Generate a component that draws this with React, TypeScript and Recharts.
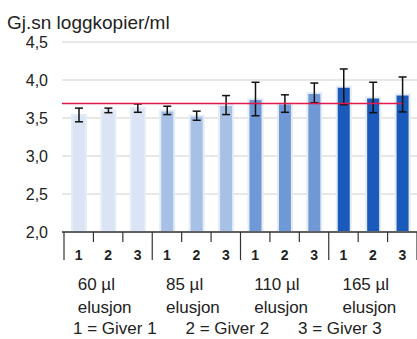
import React from 'react';
import {
  BarChart, Bar, Cell, ErrorBar, XAxis, YAxis, CartesianGrid, ReferenceLine,
} from 'recharts';

// ── data ──────────────────────────────────────────────────────────────────────
const givers = ['1', '2', '3', '1', '2', '3', '1', '2', '3', '1', '2', '3'];
const groupLabels = ['60 µl', '85 µl', '110 µl', '165 µl'];
const groupSub = 'elusjon';
const means = [3.54, 3.6, 3.63, 3.6, 3.53, 3.67, 3.75, 3.69, 3.83, 3.91, 3.77, 3.81];
const errors = [0.09, 0.03, 0.055, 0.055, 0.06, 0.125, 0.22, 0.115, 0.13, 0.235, 0.2, 0.23];
const refValue = 3.69;
const yTicks = [2.0, 2.5, 3.0, 3.5, 4.0, 4.5];
const legendItems = ['1 = Giver 1', '2 = Giver 2', '3 = Giver 3'];

const GROUP_COLORS = ['#dae4f5', '#a7c0e6', '#6e98d6', '#1a5abb'];
const FONT = '"Liberation Sans", Arial, sans-serif';
const TEXT = '#222';
const AXIS_PAD = 2;

const data = givers.map((g, i) => ({
  key: `${i}`,
  giver: g,
  mean: means[i],
  err: errors[i],
}));

// bottom axis: giver number, boundary ticks, and the elution label per group
const GiverTick = (props: any) => {
  const { x, y, payload } = props;
  const i: number = payload.index;
  const half: number = payload.offset || 14.7;
  const first = i % 3 === 0;
  return (
    <g>
      <line x1={x - half} x2={x - half} y1={y} y2={y + (first ? 28 : 10)} stroke="#333" strokeWidth={1.2} />
      {i === givers.length - 1 && (
        <line x1={x + half} x2={x + half} y1={y} y2={y + 28} stroke="#333" strokeWidth={1.2} />
      )}
      <text x={x} y={y + 28} textAnchor="middle" fontFamily={FONT} fontSize={14} fontWeight="bold" fill={TEXT}>
        {givers[i]}
      </text>
      {first && (
        <text x={x - 1} y={y + 58} textAnchor="start" fontFamily={FONT} fontSize={17} fill={TEXT}>
          <tspan x={x - 1}>{groupLabels[i / 3]}</tspan>
          <tspan x={x - 1} dy={23}>{groupSub}</tspan>
        </text>
      )}
    </g>
  );
};

// reference level: runs from the axis start to the centre of the last bar
const RefShape = (p: any) => {
  const l = Math.min(p.x1, p.x2);
  const r = Math.max(p.x1, p.x2);
  const band = (r - l - AXIS_PAD) / givers.length;
  return <line x1={l} x2={r - band / 2} y1={p.y1} y2={p.y2} stroke="#e3184a" strokeWidth={1.5} />;
};

export default function App() {
  return (
    <div style={{ position: 'fixed', left: 0, top: 0, width: 417, height: 339, background: '#fff', fontFamily: FONT }}>
      <div style={{ position: 'absolute', left: 7, top: 12, fontSize: 19, color: TEXT, lineHeight: '22px' }}>
        Gj.sn loggkopier/ml
      </div>
      <BarChart
        width={417}
        height={339}
        data={data}
        margin={{ top: 42, right: 0, bottom: 0, left: 0 }}
        barSize={14}
      >
        <CartesianGrid vertical={false} stroke="#cfcfcf" strokeWidth={1.2} />
        <XAxis
          dataKey="key"
          height={107}
          interval={0}
          padding={{ left: AXIS_PAD, right: 0 }}
          tickLine={false}
          tickSize={0}
          tickMargin={0}
          axisLine={{ stroke: '#333', strokeWidth: 1.5 }}
          tick={<GiverTick />}
        />
        <YAxis
          domain={[2, 4.5]}
          ticks={yTicks}
          width={62}
          axisLine={false}
          tickLine={false}
          tickMargin={8}
          tick={{ fill: TEXT, fontSize: 16, fontFamily: FONT }}
          tickFormatter={(v: number) => v.toFixed(1).replace('.', ',')}
        />
        <Bar dataKey="mean" stroke="#e4ecf8" strokeWidth={2} isAnimationActive={false}>
          {data.map((d, i) => (
            <Cell key={d.key} fill={GROUP_COLORS[Math.floor(i / 3)]} />
          ))}
          <ErrorBar dataKey="err" width={4} stroke="#111" strokeWidth={1.5} isAnimationActive={false} />
        </Bar>
        <ReferenceLine y={refValue} shape={<RefShape />} />
      </BarChart>
      {legendItems.map((t, i) => (
        <div
          key={t}
          style={{ position: 'absolute', left: 73 + i * 112.5, top: 319, fontSize: 17, color: TEXT, lineHeight: '20px', whiteSpace: 'nowrap' }}
        >
          {t}
        </div>
      ))}
    </div>
  );
}
